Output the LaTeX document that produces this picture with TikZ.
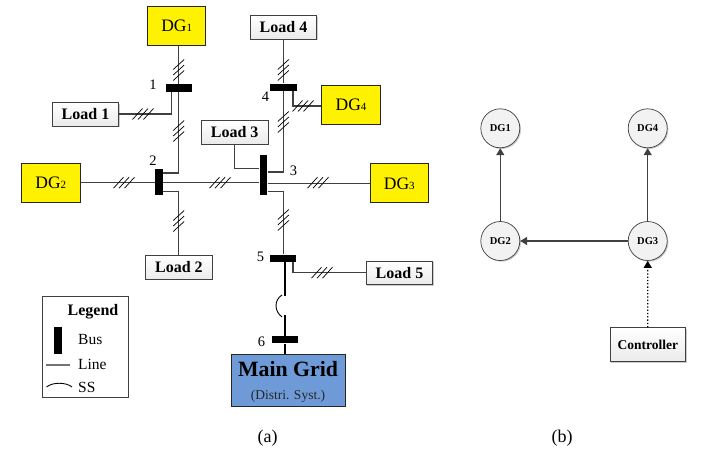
\documentclass[tikz,border=0pt]{standalone}
\usepackage{fontspec}
\setmainfont{Liberation Serif}
\usetikzlibrary{shadows,arrows.meta,calc}
\definecolor{ln}{HTML}{404040}
\newcommand{\fs}[1]{\fontsize{#1}{#1}\selectfont}
\tikzset{
  x=1pt,y=-1pt,
  line/.style={draw=ln,line width=1.1pt},
  shd/.style={drop shadow={shadow xshift=1.2pt,shadow yshift=-1.2pt,fill=black!35,opacity=.6}},
  dgbox/.style={draw=black!85,line width=1pt,fill=yellow,minimum width=58.5pt,minimum height=39pt,inner sep=0pt,font=\fs{17.5}},
  loadbox/.style={draw=ln,line width=.7pt,top color=white,bottom color=black!8,shd,minimum width=66.5pt,minimum height=23.5pt,inner sep=0pt,font=\fs{16}\bfseries},
  hbus/.style={fill=black,inner sep=0pt,minimum width=26.4pt,minimum height=7.4pt},
  vbus/.style={fill=black,inner sep=0pt,minimum width=7.8pt},
  lbl/.style={inner sep=0pt,font=\fs{14.5}},
  cnode/.style={circle,draw=ln,line width=.7pt,fill=black!5,shd,minimum size=39pt,inner sep=0pt,font=\fs{10.5}\bfseries},
  arr/.style={draw=ln,line width=1.2pt,-{Triangle[length=7pt,width=8pt]}},
  hatchv/.pic={\foreach \d in {-5.5,0,5.5}\draw[black,line width=.7pt] (-5.5,\d+5)--(5.5,\d-5);},
  hatchh/.pic={\foreach \d in {-5.5,0,5.5}\draw[black,line width=.7pt] (\d-5,5.5)--(\d+5,-5.5);},
}
\begin{document}
\begin{tikzpicture}
\useasboundingbox (0,0) rectangle (708,453);
% sources and loads
\node[dgbox] (dg1) at (176.7,25.5) {DG{\fs{11}1}};
\node[dgbox] (dg2) at (50.8,182.7) {DG{\fs{11}2}};
\node[dgbox] (dg3) at (399.3,183.3) {DG{\fs{11}3}};
\node[dgbox] (dg4) at (351,104.7) {DG{\fs{11}4}};
\node[loadbox] (l1) at (85.5,114.5) {Load 1};
\node[loadbox] (l2) at (178.9,267.2) {Load 2};
\node[loadbox] (l3) at (234.7,132.2) {Load 3};
\node[loadbox] (l4) at (283.5,27.2) {Load 4};
\node[loadbox] (l5) at (399.5,272.7) {Load 5};
% buses
\node[hbus] (b1) at (178.9,88) {};
\node[vbus,minimum height=25.4pt] (b2) at (159,182) {};
\node[vbus,minimum height=39.4pt] (b3) at (263.5,175) {};
\node[hbus] (b4) at (283.5,87.3) {};
\node[hbus] (b5) at (283.2,258.3) {};
\node[hbus] (b6) at (285.2,339.7) {};
% main grid
\node[draw=black!85,line width=1pt,minimum width=114.3pt,minimum height=52.4pt,inner sep=0pt,fill={rgb,255:red,110;green,155;blue,216}] (mg) at (288.2,380.5) {};
\node[inner sep=0pt,font=\fs{21.8}\bfseries,anchor=base] (mgt) at (288,376) {Main Grid};
\node[inner sep=0pt,font=\fs{13.5},text=black!85,anchor=base] (mgs) at (288,399) {(Distri. Syst.)};
% bus numbers
\node[lbl] (n1) at (153,85) {1};
\node[lbl] (n2) at (153,161) {2};
\node[lbl] (n3) at (293.5,171) {3};
\node[lbl] (n4) at (265.5,97) {4};
\node[lbl] (n5) at (260.5,257) {5};
\node[lbl] (n6) at (261.5,342) {6};
% junction coordinates
\coordinate (c12) at (178.7,173);
\coordinate (c22) at (178.7,191.3);
\coordinate (c34) at (283.3,172);
\coordinate (c35) at (283.3,191.3);
\coordinate (c33) at (234.7,168.3);
\coordinate (cl1) at (171.7,114);
\coordinate (cd4) at (293,106);
\coordinate (cl5) at (293,272.7);
\coordinate (ss1) at (285,296);
\coordinate (ss2) at (285,315);
% lines
\draw[line] (dg1.south -| c12) -- (b1.north -| c12);
\draw[line] (b1.south -| c12) -- (c12) -- (c12 -| b2.east);
\draw[line] (l1.east |- cl1) -- (cl1) -- (cl1 |- b1.south);
\draw[line] (dg2.east) -- (dg2.east -| b2.west);
\draw[line] (b2.east |- dg2.east) -- (b3.west |- dg2.east);
\draw[line] (b2.east |- c22) -- (c22) -- (l2.north -| c22);
\draw[line] (b3.east |- dg3.west) -- (dg3.west);
\draw[line] (l3.south) -- (c33) -- (c33 -| b3.west);
\draw[line] (l4.south -| c34) -- (b4.north -| c34);
\draw[line] (b4.south -| c34) -- (c34) -- (c34 -| b3.east);
\draw[line] (b3.east |- c35) -- (c35) -- (b5.north -| c35);
\draw[line] (dg4.west |- cd4) -- (cd4) -- (cd4 |- b4.south);
\draw[line] (b5.south -| cl5) -- (cl5) -- (l5.west |- cl5);
\draw[line,draw=black] (b5.south -| ss1) -- (ss1);
\draw[line,draw=black] (ss2) -- (b6.north -| ss2);
\draw[line,draw=black] (b6.south -| ss2) -- (mg.north -| ss2);
\draw[black,line width=.9pt] ($(ss1)+(-3,-1)$) .. controls ($(ss1)+(-11,4)$) and ($(ss2)+(-11,-4)$) .. ($(ss2)+(-3,2)$);
% hatches
\pic at (178.7,70) {hatchv};
\pic at (178.7,131) {hatchv};
\pic at (143,114) {hatchh};
\pic at (124,182.7) {hatchh};
\pic at (220,182.7) {hatchh};
\pic at (178.7,221) {hatchv};
\pic at (283.3,70) {hatchv};
\pic at (283.3,122) {hatchv};
\pic at (303,106) {hatchh};
\pic at (318,182.7) {hatchh};
\pic at (283.3,220) {hatchv};
\pic at (322,272.7) {hatchh};
% legend
\node[draw=ln,line width=.8pt,minimum width=86.7pt,minimum height=100.6pt,inner sep=0pt] (leg) at (85.3,347) {};
\node[inner sep=0pt,font=\fs{16}\bfseries,anchor=base] (legt) at (93,315.5) {Legend};
\node[fill=black,inner sep=0pt,minimum width=8pt,minimum height=27pt] (legb) at (57.7,340) {};
\node[inner sep=0pt,font=\fs{15.5},anchor=base west] (lb) at (78,344) {Bus};
\node[inner sep=0pt,font=\fs{15.5},anchor=base west] (ll) at (78,369) {Line};
\node[inner sep=0pt,font=\fs{15.5},anchor=base west] (ls) at (78,392) {SS};
\coordinate (ll1) at (46,365);
\coordinate (ll2) at (69.5,365);
\draw[draw=black!55,line width=1.1pt] (ll1) -- (ll2);
\coordinate (ls1) at (46.5,387);
\coordinate (ls2) at (72,387);
\draw[black,line width=.9pt] (ls1) .. controls ($(ls1)+(6,-5)$) and ($(ls2)+(-6,-5)$) .. (ls2);
% captions
\node[inner sep=0pt,font=\fs{18}] (capa) at (267.5,438.5) {(a)};
\node[inner sep=0pt,font=\fs{18}] (capb) at (562,438.5) {(b)};
% right diagram
\node[cnode] (g1) at (500.3,128.3) {DG1};
\node[cnode] (g4) at (647.7,128.3) {DG4};
\node[cnode] (g2) at (500.3,241) {DG2};
\node[cnode] (g3) at (647.7,241) {DG3};
\node[draw=ln,line width=.7pt,top color=white,bottom color=black!8,shd,minimum width=75.7pt,minimum height=34pt,inner sep=0pt,font=\fs{13.5}\bfseries] (ctl) at (647.8,344.7) {Controller};
\draw[arr] (g2) -- (g1);
\draw[arr] (g3) -- (g4);
\draw[arr] (g3) -- (g2);
\draw[draw=black,line width=1.3pt,dotted,-{Triangle[length=7pt,width=8pt]}] (ctl.north) -- (g3.south);
\end{tikzpicture}
\end{document}
